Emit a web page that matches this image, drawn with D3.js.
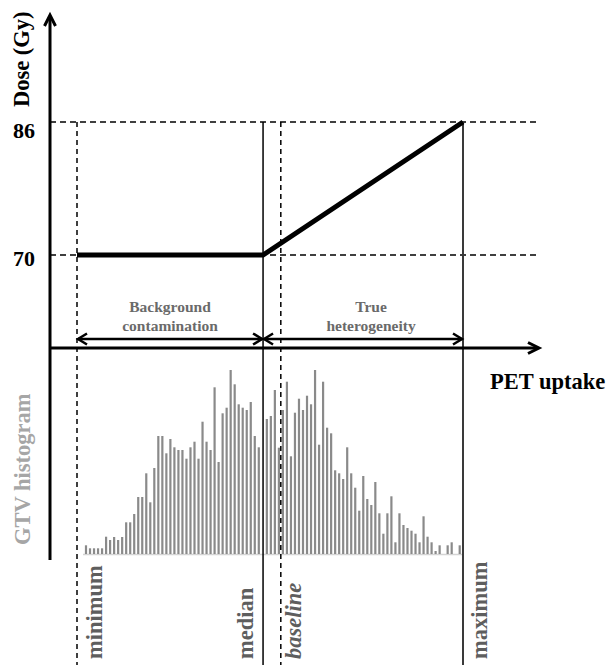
<!DOCTYPE html>
<html>
<head>
<meta charset="utf-8">
<script src="https://cdn.jsdelivr.net/npm/d3@7/dist/d3.min.js"></script>
<style>
  html, body { margin: 0; padding: 0; background: #fff; }
  svg { display: block; }
  text { font-family: "Liberation Serif", "Times New Roman", serif; font-weight: bold; }
</style>
</head>
<body>
<svg id="chart" width="610" height="665"></svg>
<script>
// ---------------- data ----------------
const markerNames = ["minimum", "median", "baseline", "maximum"];
const markerUptake = [0, 48.2, 52.8, 100];          // normalised PET uptake (%)
const doseTicks = [70, 86];                          // Gy
const profileUptake = [0, 48.2, 100];
const profileDose = [70, 70, 86];
const regionNames = [["Background", "contamination"], ["True", "heterogeneity"]];
const regionFrom = [0, 48.2];
const regionTo = [48.2, 100];
// GTV histogram counts, one per bin (first bin centre 2.33, last 99.15)
const histCounts = [
  8.7, 5.7, 5.7, 5.7, 5.7, 17.3, 14, 17, 14, 17,
  31.7, 31.7, 40, 57, 57, 80.7, 51.7, 86, 118, 118,
  100.7, 115, 106.7, 104, 104, 95.3, 106.7, 112.3, 95.3, 132.3,
  112.3, 104, 166.7, 92, 140.7, 146.3, 184, 169.7, 149.7, 146.3,
  144, 152, 118, 106.7, 0, 135, 138, 164, 106.3, 144,
  172.3, 97.7, 141.3, 155.3, 144, 158.3, 149.7, 184, 109.3, 172.3,
  126.3, 120.7, 83.7, 80.7, 75, 106.7, 80.7, 66.3, 43.3, 78,
  55, 49, 72, 40.7, 20.3, 40.7, 57.7, 11.7, 40.7, 29,
  26, 23.3, 20.3, 11.7, 37.7, 17.3, 11.7, 3, 8.7, 0,
  8.7, 11.7, 0, 8.7
];
const histFirst = 2.33, histLast = 99.15;

// ---------------- layout ----------------
const svg = d3.select("#chart");
const FONT = 22.5;
const axisX = 50, axisY = 348;
const x = d3.scaleLinear().domain([0, 100]).range([77, 463]);
const yDose = d3.scaleLinear().domain([70, 86]).range([255, 122]);
const yHist = d3.scaleLinear().domain([0, 200]).range([554, 354]);
const binCentre = i => histFirst + i * (histLast - histFirst) / (histCounts.length - 1);

// histogram baseline
svg.append("line")
  .attr("x1", x(binCentre(0)) - 3).attr("x2", x(binCentre(histCounts.length - 1)) + 3)
  .attr("y1", yHist(0) + 0.5).attr("y2", yHist(0) + 0.5)
  .attr("stroke", "#d4d4d4").attr("stroke-width", 1.5);

// histogram bars
svg.append("g").selectAll("rect")
  .data(histCounts)
  .join("rect")
  .attr("x", (d, i) => x(binCentre(i)) - 1.1)
  .attr("width", 2.2)
  .attr("y", d => yHist(d))
  .attr("height", d => yHist(0) - yHist(d))
  .attr("fill", "#8a8a8a");

// horizontal dashed dose guides
svg.append("g").selectAll("line")
  .data(doseTicks)
  .join("line")
  .attr("x1", axisX).attr("x2", 540)
  .attr("y1", d => yDose(d)).attr("y2", d => yDose(d))
  .attr("stroke", "#000").attr("stroke-width", 1.3)
  .attr("stroke-dasharray", "6,4");

// vertical marker lines
const markerStyle = {
  minimum: { dash: "5,4", color: "#000", w: 1.5 },
  median: { dash: null, color: "#000", w: 1.5 },
  baseline: { dash: "5,4", color: "#000", w: 1.5 },
  maximum: { dash: null, color: "#3a3a3a", w: 2 }
};
svg.append("g").selectAll("line")
  .data(markerNames)
  .join("line")
  .attr("x1", (d, i) => x(markerUptake[i])).attr("x2", (d, i) => x(markerUptake[i]))
  .attr("y1", yDose(86)).attr("y2", 665)
  .attr("stroke", d => markerStyle[d].color)
  .attr("stroke-width", d => markerStyle[d].w)
  .attr("stroke-dasharray", d => markerStyle[d].dash);

// dose profile
const profile = profileUptake.map((u, i) => [x(u), yDose(profileDose[i])]);
svg.append("path")
  .attr("d", d3.line()(profile))
  .attr("fill", "none").attr("stroke", "#000")
  .attr("stroke-width", 5).attr("stroke-linejoin", "miter");

// double-headed region arrows
const arrowY = 339;
const arrows = svg.append("g").attr("stroke", "#000").attr("stroke-width", 2.5).attr("fill", "none");
regionFrom.forEach((f, i) => {
  const a = x(f), b = x(regionTo[i]);
  arrows.append("line").attr("x1", a + 1).attr("x2", b - 1).attr("y1", arrowY).attr("y2", arrowY);
  arrows.append("path").attr("d", `M${a + 10},${arrowY - 5.5}L${a + 1},${arrowY}L${a + 10},${arrowY + 5.5}`);
  arrows.append("path").attr("d", `M${b - 10},${arrowY - 5.5}L${b - 1},${arrowY}L${b - 10},${arrowY + 5.5}`);
});

// region labels
const regionShift = [0, 8];
regionNames.forEach((lines, i) => {
  const cx = x((regionFrom[i] + regionTo[i]) / 2) + regionShift[i];
  const t = svg.append("text")
    .attr("text-anchor", "middle").attr("fill", "#6a6a6a")
    .style("font-size", "15.5px");
  lines.forEach((ln, k) => {
    t.append("tspan").attr("x", cx).attr("y", 311.5 + k * 19).text(ln);
  });
});

// axes lines + arrowheads
const ax = svg.append("g").attr("stroke", "#000").attr("stroke-width", 3).attr("fill", "none");
ax.append("line").attr("x1", axisX).attr("x2", axisX).attr("y1", 560).attr("y2", 16);
ax.append("path").attr("d", `M${axisX - 5.5},26L${axisX},15L${axisX + 5.5},26`);
ax.append("line").attr("x1", axisX).attr("x2", 538).attr("y1", axisY).attr("y2", axisY);
ax.append("path").attr("d", `M528,342.5L539,${axisY}L528,353.5`);

// dose tick labels via d3 axis
const yAxis = svg.append("g")
  .attr("transform", `translate(${axisX},0)`)
  .call(d3.axisLeft(yDose).tickValues(doseTicks).tickSize(0).tickPadding(15).tickFormat(d3.format("d")));
yAxis.select(".domain").remove();
yAxis.selectAll("text")
  .attr("dy", null)
  .attr("y", d => d === 86 ? 15 : 10.5)
  .attr("fill", "#000")
  .style("font-size", "22px")
  .style("font-family", "'Liberation Serif', 'Times New Roman', serif")
  .style("font-weight", "bold");

// axis titles
svg.append("text")
  .attr("transform", "translate(29,107) rotate(-90)")
  .attr("text-anchor", "start").attr("fill", "#000")
  .style("font-size", FONT + "px").text("Dose (Gy)");
svg.append("text")
  .attr("x", 490).attr("y", 388.5)
  .attr("text-anchor", "start").attr("fill", "#000")
  .style("font-size", FONT + "px").text("PET uptake");
svg.append("text")
  .attr("transform", "translate(30,545) rotate(-90)")
  .attr("text-anchor", "start").attr("fill", "#a6a6a6")
  .style("font-size", FONT + "px").text("GTV histogram");

// marker labels (rotated, below histogram)
const labelOffset = { minimum: 24.5, median: -9.7, baseline: 20.5, maximum: 24 };
svg.append("g").selectAll("text")
  .data(markerNames)
  .join("text")
  .attr("transform", (d, i) => `translate(${x(markerUptake[i]) + labelOffset[d]},659) rotate(-90)`)
  .attr("text-anchor", "start")
  .attr("fill", "#5e5e5e")
  .style("font-size", FONT + "px")
  .style("font-style", d => d === "baseline" ? "italic" : "normal")
  .text(d => d);
</script>
</body>
</html>
